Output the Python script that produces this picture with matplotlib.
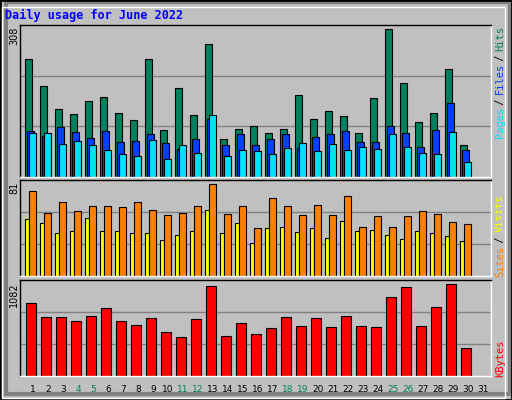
import matplotlib
matplotlib.use("Agg")
import matplotlib.pyplot as plt
import numpy as np
from matplotlib.patches import Rectangle

days = list(range(1, 32))
weekend = [4, 5, 11, 12, 18, 19, 25, 26]
hits = [247,189,141,132,158,166,134,118,247,97,185,130,277,80,101,107,91,101,170,120,137,128,91,164,308,195,114,134,226,66]
files = [95,86,105,93,82,95,74,76,89,70,59,80,121,66,89,66,80,89,61,84,89,95,74,74,107,91,63,99,155,57]
pages = [91,91,68,76,66,57,49,43,78,38,66,51,130,43,57,55,47,61,70,55,68,57,63,59,89,63,51,49,93,32]
visits = [75,56,65,57,62,62,61,65,58,54,56,62,81,55,62,42,69,62,54,63,54,71,43,53,43,53,57,55,48,46]
sites = [50,47,38,40,51,40,40,38,38,32,36,40,58,38,47,29,42,43,39,42,34,49,40,41,36,33,40,38,35,31]
kbytes = [856,701,701,654,713,797,654,606,690,523,464,678,1058,476,630,499,571,701,594,690,583,713,594,583,927,1046,594,820,1082,333]

W, H = 512, 400
fig = plt.figure(figsize=(W/100, H/100), dpi=100)
fig.patch.set_facecolor("#C0C0C0")
mono = "DejaVu Sans Mono"

fig.add_artist(Rectangle((0, 0), 1, 1, transform=fig.transFigure, fill=False, ec="black", lw=2))
fig.add_artist(Rectangle((2/W, 2/H), 1-9/W, 1-9/H, transform=fig.transFigure, fill=False, ec="white", lw=1))
fig.add_artist(Rectangle((6/W, 6/H), 1-8/W, 1-8/H, transform=fig.transFigure, fill=False, ec="#808080", lw=3, zorder=0))

fig.text(5/W, 1-15/H, "Daily usage for June 2022", color="#0000FF", fontsize=8.5, fontweight="bold",
         family=mono, va="center")

def mkax(top, bottom):
    ax = fig.add_axes([20/W, 1-bottom/H, 471/W, (bottom-top)/H])
    ax.set_facecolor("#C0C0C0")
    ax.set_xlim(-0.333, 31.07)
    ax.set_xticks([]); ax.set_yticks([])
    for s in ax.spines.values():
        s.set_color("white"); s.set_linewidth(1)
    ax.spines["left"].set_color("black"); ax.spines["top"].set_color("black")
    return ax

x = np.arange(len(hits))
kw = dict(align="edge", edgecolor="black", linewidth=0.8)

ax1 = mkax(25, 177)
ymax1 = 317
ax1.set_ylim(0, ymax1)
for f in (1/3, 2/3):
    ax1.axhline(ymax1*f, color="#808080", lw=1, zorder=0)
ax1.bar(x, hits, width=0.47, color="#00805C", **kw)
ax1.bar(x+0.13, files, width=0.47, color="#0040FF", **kw)
ax1.bar(x+0.27, pages, width=0.47, color="#00E0FF", **kw)

ax2 = mkax(180, 276)
ymax2 = 84.8
ax2.set_ylim(0, ymax2)
for f in (1/3, 2/3):
    ax2.axhline(ymax2*f, color="#808080", lw=1, zorder=0)
ax2.bar(x, sites, width=0.27, color="#FFFF00", **kw)
ax2.bar(x+0.27, visits, width=0.47, color="#FF8000", **kw)

ax3 = mkax(280, 376)
ymax3 = 1133
ax3.set_ylim(0, ymax3)
for f in (1/3, 2/3):
    ax3.axhline(ymax3*f, color="#808080", lw=1, zorder=0)
ax3.bar(x+0.07, kbytes, width=0.67, color="#FF0000", **kw)

for v, y in (("308", 27), ("81", 182), ("1082", 282)):
    fig.text(14/W, 1-y/H, v, rotation=90, fontsize=7, family="DejaVu Sans", ha="center", va="top")

for d in days:
    xp = 20 + (d-1)*15 + 5 + 8
    fig.text(xp/W, 1-389/H, str(d), fontsize=6.5, family="DejaVu Sans", ha="center", va="center",
             color="#00805C" if d in weekend else "black")

def rlabel(parts, ybottom, ytop):
    n = sum(len(t) for t, _ in parts)
    step = (ybottom - ytop) / n
    y = ybottom
    for txt, col in parts:
        fig.text(500/W, 1-y/H, txt, rotation=90, fontsize=7.5, family=mono, color=col,
                 ha="center", va="bottom")
        y -= len(txt) * step
rlabel([("Pages", "#00E0FF"), (" / ", "#000000"), ("Files", "#0040FF"), (" / ", "#000000"), ("Hits", "#00805C")], 138, 29)
rlabel([("Sites", "#FF8000"), (" / ", "#000000"), ("Visits", "#FFFF00")], 277, 198)
rlabel([("KBytes", "#FF0000")], 377, 341)

fig.savefig("out.png", dpi=100, facecolor=fig.get_facecolor())
